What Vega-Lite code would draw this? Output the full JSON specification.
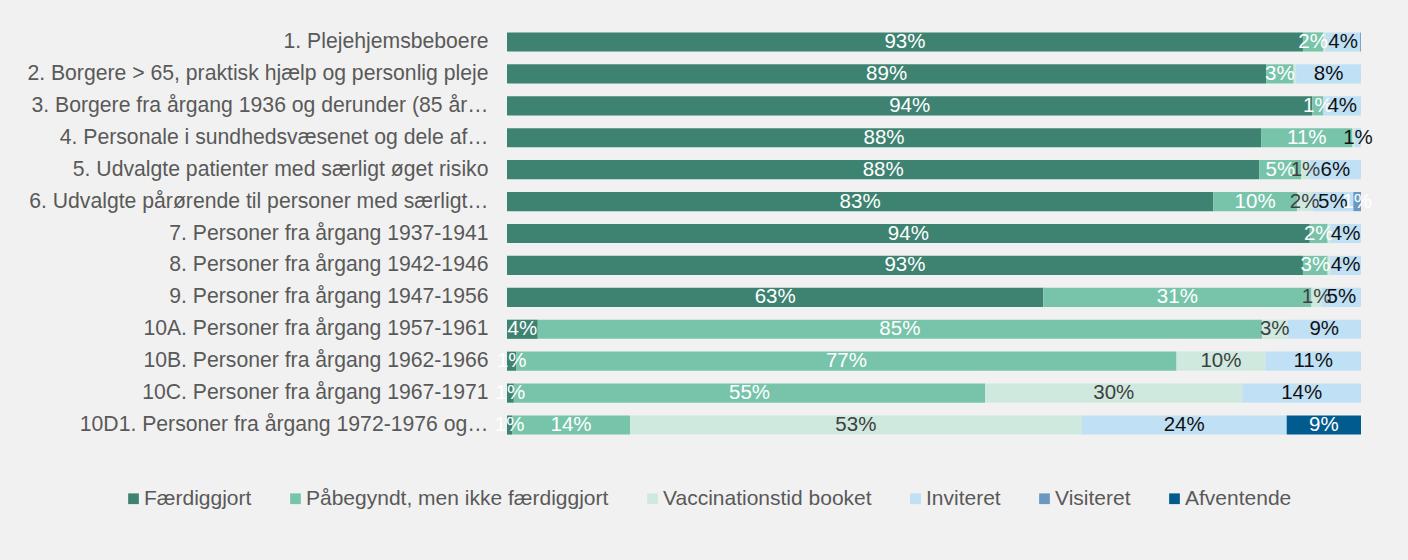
{
  "$schema": "https://vega.github.io/schema/vega-lite/v6.json",
  "width": 854,
  "height": 415,
  "autosize": {"type": "none"},
  "padding": {"left": 507, "top": 26, "right": 47, "bottom": 119},
  "background": "#f1f1f1",
  "config": {"view": {"stroke": null}, "font": "Liberation Sans"},
  "data": {
    "values": [
      {"c": "1. Plejehjemsbeboere", "s": "Færdiggjort", "v": 0.932},
      {"c": "1. Plejehjemsbeboere", "s": "Påbegyndt, men ikke færdiggjort", "v": 0.024},
      {"c": "1. Plejehjemsbeboere", "s": "Vaccinationstid booket", "v": 0.003},
      {"c": "1. Plejehjemsbeboere", "s": "Inviteret", "v": 0.040},
      {"c": "1. Plejehjemsbeboere", "s": "Visiteret", "v": 0.001},
      {"c": "2. Borgere > 65, praktisk hjælp og personlig pleje", "s": "Færdiggjort", "v": 0.889},
      {"c": "2. Borgere > 65, praktisk hjælp og personlig pleje", "s": "Påbegyndt, men ikke færdiggjort", "v": 0.032},
      {"c": "2. Borgere > 65, praktisk hjælp og personlig pleje", "s": "Vaccinationstid booket", "v": 0.003},
      {"c": "2. Borgere > 65, praktisk hjælp og personlig pleje", "s": "Inviteret", "v": 0.076},
      {"c": "3. Borgere fra årgang 1936 og derunder (85 år…", "s": "Færdiggjort", "v": 0.943},
      {"c": "3. Borgere fra årgang 1936 og derunder (85 år…", "s": "Påbegyndt, men ikke færdiggjort", "v": 0.013},
      {"c": "3. Borgere fra årgang 1936 og derunder (85 år…", "s": "Inviteret", "v": 0.044},
      {"c": "4. Personale i sundhedsvæsenet og dele af…", "s": "Færdiggjort", "v": 0.883},
      {"c": "4. Personale i sundhedsvæsenet og dele af…", "s": "Påbegyndt, men ikke færdiggjort", "v": 0.107},
      {"c": "4. Personale i sundhedsvæsenet og dele af…", "s": "Vaccinationstid booket", "v": 0.003},
      {"c": "4. Personale i sundhedsvæsenet og dele af…", "s": "Inviteret", "v": 0.007},
      {"c": "5. Udvalgte patienter med særligt øget risiko", "s": "Færdiggjort", "v": 0.881},
      {"c": "5. Udvalgte patienter med særligt øget risiko", "s": "Påbegyndt, men ikke færdiggjort", "v": 0.049},
      {"c": "5. Udvalgte patienter med særligt øget risiko", "s": "Vaccinationstid booket", "v": 0.010},
      {"c": "5. Udvalgte patienter med særligt øget risiko", "s": "Inviteret", "v": 0.060},
      {"c": "6. Udvalgte pårørende til personer med særligt…", "s": "Færdiggjort", "v": 0.827},
      {"c": "6. Udvalgte pårørende til personer med særligt…", "s": "Påbegyndt, men ikke færdiggjort", "v": 0.098},
      {"c": "6. Udvalgte pårørende til personer med særligt…", "s": "Vaccinationstid booket", "v": 0.018},
      {"c": "6. Udvalgte pårørende til personer med særligt…", "s": "Inviteret", "v": 0.048},
      {"c": "6. Udvalgte pårørende til personer med særligt…", "s": "Visiteret", "v": 0.009},
      {"c": "7. Personer fra årgang 1937-1941", "s": "Færdiggjort", "v": 0.940},
      {"c": "7. Personer fra årgang 1937-1941", "s": "Påbegyndt, men ikke færdiggjort", "v": 0.021},
      {"c": "7. Personer fra årgang 1937-1941", "s": "Vaccinationstid booket", "v": 0.003},
      {"c": "7. Personer fra årgang 1937-1941", "s": "Inviteret", "v": 0.036},
      {"c": "8. Personer fra årgang 1942-1946", "s": "Færdiggjort", "v": 0.932},
      {"c": "8. Personer fra årgang 1942-1946", "s": "Påbegyndt, men ikke færdiggjort", "v": 0.029},
      {"c": "8. Personer fra årgang 1942-1946", "s": "Vaccinationstid booket", "v": 0.003},
      {"c": "8. Personer fra årgang 1942-1946", "s": "Inviteret", "v": 0.036},
      {"c": "9. Personer fra årgang 1947-1956", "s": "Færdiggjort", "v": 0.628},
      {"c": "9. Personer fra årgang 1947-1956", "s": "Påbegyndt, men ikke færdiggjort", "v": 0.314},
      {"c": "9. Personer fra årgang 1947-1956", "s": "Vaccinationstid booket", "v": 0.012},
      {"c": "9. Personer fra årgang 1947-1956", "s": "Inviteret", "v": 0.046},
      {"c": "10A. Personer fra årgang 1957-1961", "s": "Færdiggjort", "v": 0.036},
      {"c": "10A. Personer fra årgang 1957-1961", "s": "Påbegyndt, men ikke færdiggjort", "v": 0.848},
      {"c": "10A. Personer fra årgang 1957-1961", "s": "Vaccinationstid booket", "v": 0.030},
      {"c": "10A. Personer fra årgang 1957-1961", "s": "Inviteret", "v": 0.086},
      {"c": "10B. Personer fra årgang 1962-1966", "s": "Færdiggjort", "v": 0.011},
      {"c": "10B. Personer fra årgang 1962-1966", "s": "Påbegyndt, men ikke færdiggjort", "v": 0.773},
      {"c": "10B. Personer fra årgang 1962-1966", "s": "Vaccinationstid booket", "v": 0.104},
      {"c": "10B. Personer fra årgang 1962-1966", "s": "Inviteret", "v": 0.112},
      {"c": "10C. Personer fra årgang 1967-1971", "s": "Færdiggjort", "v": 0.008},
      {"c": "10C. Personer fra årgang 1967-1971", "s": "Påbegyndt, men ikke færdiggjort", "v": 0.552},
      {"c": "10C. Personer fra årgang 1967-1971", "s": "Vaccinationstid booket", "v": 0.301},
      {"c": "10C. Personer fra årgang 1967-1971", "s": "Inviteret", "v": 0.139},
      {"c": "10D1. Personer fra årgang 1972-1976 og…", "s": "Færdiggjort", "v": 0.006},
      {"c": "10D1. Personer fra årgang 1972-1976 og…", "s": "Påbegyndt, men ikke færdiggjort", "v": 0.138},
      {"c": "10D1. Personer fra årgang 1972-1976 og…", "s": "Vaccinationstid booket", "v": 0.529},
      {"c": "10D1. Personer fra årgang 1972-1976 og…", "s": "Inviteret", "v": 0.240},
      {"c": "10D1. Personer fra årgang 1972-1976 og…", "s": "Afventende", "v": 0.087}
    ]
  },
  "transform": [
    {"calculate": "indexof(['Færdiggjort','Påbegyndt, men ikke færdiggjort','Vaccinationstid booket','Inviteret','Visiteret','Afventende'], datum.s)", "as": "o"},
    {"stack": "v", "groupby": ["c"], "sort": [{"field": "o", "order": "ascending"}], "as": ["v0", "v1"]},
    {"calculate": "(datum.v0 + datum.v1) / 2", "as": "mid"}
  ],
  "encoding": {
    "y": {
      "field": "c",
      "type": "nominal",
      "sort": null,
      "title": null,
      "scale": {"paddingInner": 0.4, "paddingOuter": 0.2},
      "axis": {
        "domain": false,
        "ticks": false,
        "labelFontSize": 21.2,
        "labelColor": "#595959",
        "labelPadding": 19,
        "labelLimit": 520
      }
    }
  },
  "layer": [
    {
      "mark": {"type": "bar"},
      "encoding": {
        "x": {"field": "v0", "type": "quantitative", "scale": {"domain": [0, 1], "nice": false}, "axis": null},
        "x2": {"field": "v1"},
        "color": {
          "field": "s",
          "type": "nominal",
          "scale": {
            "domain": ["Færdiggjort", "Påbegyndt, men ikke færdiggjort", "Vaccinationstid booket", "Inviteret", "Visiteret", "Afventende"],
            "range": ["#3e8371", "#78c4ab", "#cfe9df", "#c0e0f5", "#6a98c0", "#005b8f"]
          },
          "legend": {
            "orient": "none",
            "legendX": -384,
            "legendY": 462,
            "direction": "horizontal",
            "title": null,
            "symbolType": "square",
            "symbolSize": 115,
            "symbolStrokeWidth": 0,
            "labelFontSize": 21,
            "labelColor": "#595959",
            "labelOffset": 0,
            "columnPadding": 33,
            "labelLimit": 400
          }
        }
      }
    },
    {
      "transform": [{"filter": "datum.v >= 0.005"}],
      "mark": {"type": "text", "fontSize": 20.5, "baseline": "middle", "align": "center"},
      "encoding": {
        "x": {"field": "mid", "type": "quantitative"},
        "text": {"field": "v", "type": "quantitative", "format": ".0%"},
        "color": {
          "condition": [
            {"test": "datum.s === 'Vaccinationstid booket'", "value": "#404040"},
            {"test": "datum.s === 'Inviteret'", "value": "#111111"}
          ],
          "value": "#ffffff"
        }
      }
    }
  ]
}
